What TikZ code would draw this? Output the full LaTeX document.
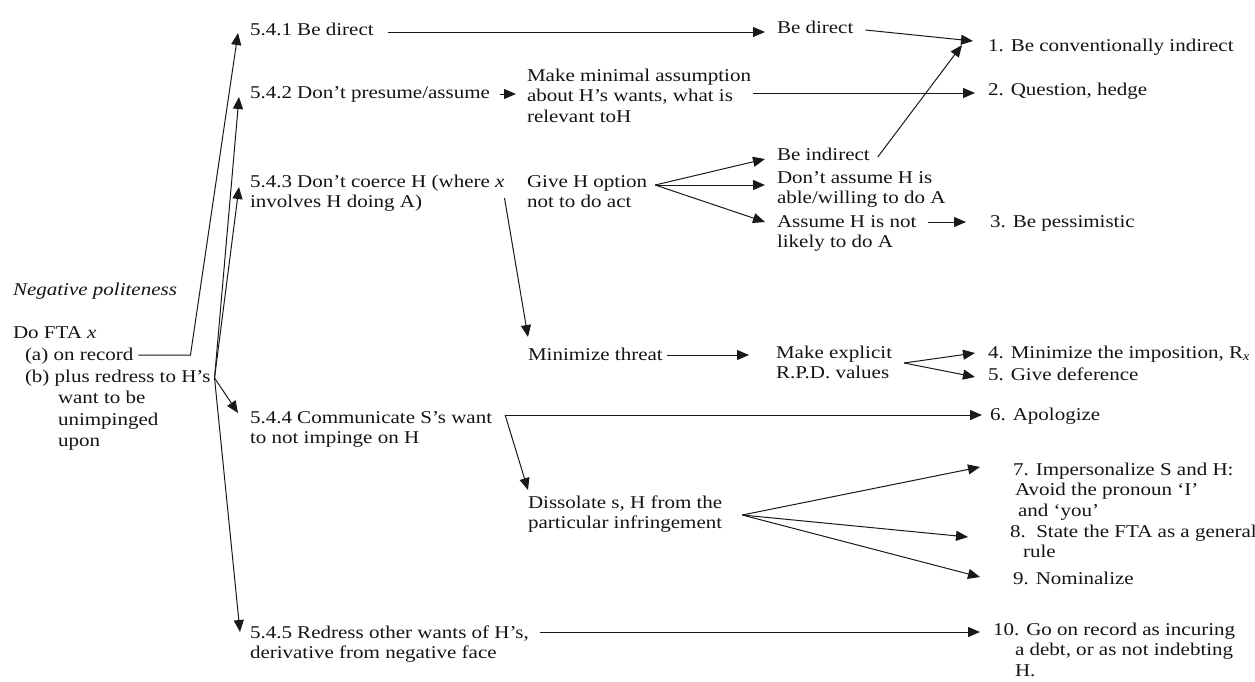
\documentclass[tikz,border=0pt]{standalone}
\usepackage{fontspec}
\setmainfont{Liberation Serif}[FakeStretch=1.167]
\usetikzlibrary{arrows.meta,calc}
\newcommand{\ml}[1]{\begin{tabular}[t]{@{}l@{}}#1\end{tabular}}
\begin{document}
\begin{tikzpicture}[x=1pt,y=-1pt,
  font=\fontsize{18}{20.5}\selectfont,
  txt/.style={anchor=base west,inner sep=0pt,outer sep=0pt,text=black!92},
  ln/.style={draw=black!90,line width=1pt},
  arr/.style={ln,-{Triangle[length=12pt,width=10pt]}}]
\useasboundingbox (0,0) rectangle (1255,681);
% left block
\node[txt] (neg) at (13,295) {\textit{Negative politeness}};
\node[txt] (dofta) at (13,338) {Do FTA \textit{x}};
\node[txt] (ona) at (25,360) {(a) on record};
\node[txt] (onb) at (25,382) {\renewcommand\arraystretch{1.05}\ml{(b) plus redress to H's\\\hspace*{33pt}want to be\\\hspace*{33pt}unimpinged\\\hspace*{33pt}upon}};
% level 1
\node[txt] (n541) at (250,35) {5.4.1 Be direct};
\node[txt] (n542) at (250,98) {5.4.2 Don't presume/assume};
\node[txt] (n543) at (250,187) {\ml{5.4.3 Don't coerce H (where \textit{x}\\involves H doing A)}};
\node[txt] (n544) at (250,423) {\ml{5.4.4 Communicate S's want\\to not impinge on H}};
\node[txt] (n545) at (250,638) {\ml{5.4.5 Redress other wants of H's,\\derivative from negative face}};
% level 2
\node[txt] (make) at (527,81) {\ml{Make minimal assumption\\about H's wants, what is\\relevant toH}};
\node[txt] (give) at (527,187) {\ml{Give H option\\not to do act}};
\node[txt] (minthr) at (528,360) {Minimize threat};
\node[txt] (dissol) at (528,508) {\ml{Dissolate s, H from the\\particular infringement}};
% level 3
\node[txt] (bedir) at (777,33) {Be direct};
\node[txt] (beind) at (777,160) {Be indirect};
\node[txt] (dontas) at (777,183) {\ml{Don't assume H is\\able/willing to do A}};
\node[txt] (assume) at (777,227) {\ml{Assume H is not\\likely to do A}};
\node[txt] (explicit) at (776,358) {\ml{Make explicit\\R.P.D. values}};
% outcomes
\node[txt] (o1) at (988,51) {1. Be conventionally indirect};
\node[txt] (o2) at (988,95) {2. Question, hedge};
\node[txt] (o3) at (990,227) {3. Be pessimistic};
\node[txt] (o4) at (988,358) {4. Minimize the imposition, R\textsubscript{\textit{x}}};
\node[txt] (o5) at (988,380) {5. Give deference};
\node[txt] (o6) at (990,420) {6. Apologize};
\node[txt] (o7) at (1013,475) {\ml{7. Impersonalize S and H:\\\hspace*{2pt}Avoid the pronoun `I'\\\hspace*{5pt}and `you'}};
\node[txt] (o8) at (1010,537) {\ml{8.\ \ State the FTA as a general\\\hspace*{13pt}rule}};
\node[txt] (o9) at (1013,584) {9. Nominalize};
\node[txt] (o10) at (993,635) {\ml{10. Go on record as incuring\\\hspace*{22pt}a debt, or as not indebting\\\hspace*{22pt}H.}};
% connectors from the left block
\coordinate (acorner) at ($(ona.base east)+(57,-5)$);
\coordinate (bpt) at ($(onb.base east)+(4,-4)$);
\draw[arr] ($(ona.base east)+(5,-5)$) -- (acorner) -- ($(n541.base west)+(-12,-2)$);
\draw[arr] (bpt) -- ($(n542.base west)+(-11,-1)$);
\draw[arr] (bpt) -- ($(n543.base west)+(-11,0)$);
\draw[arr] (bpt) -- ($(n544.base west)+(-12,-10)$);
\draw[arr] (bpt) -- ($(n545.base west)+(-10,-6)$);
% 5.4.1
\draw[arr] ($(n541.base east)+(14,-3)$) -- ($(bedir.base west)+(-12,-1)$);
\draw[arr] ($(bedir.base east)+(12,-3)$) -- ($(o1.base west)+(-15,-10)$);
% 5.4.2
\draw[arr] ($(n542.base east)+(10,-4)$) -- ($(make.base west)+(-11,13)$);
\draw[arr] ($(make.base east)+(2,12)$) -- ($(o2.base west)+(-13,-2)$);
% 5.4.3
\coordinate (gfan) at ($(give.base east)+(8,-2)$);
\draw[arr] (gfan) -- ($(beind.base west)+(-12,-1)$);
\draw[arr] (gfan) -- ($(dontas.base west)+(-12,2)$);
\draw[arr] (gfan) -- ($(assume.base west)+(-12,-5)$);
\draw[arr] ($(beind.base east)+(8,-3)$) -- ($(o1.base west)+(-26,-6)$);
\draw[arr] ($(assume.base east)+(12,-5)$) -- ($(o3.base west)+(-24,-5)$);
\draw[arr] ($(n543.base east)+(0,11)$) -- ($(minthr.base west)+(0,-23)$);
\draw[arr] ($(minthr.base east)+(4,-5)$) -- ($(explicit.base west)+(-27,-3)$);
\coordinate (efan) at ($(explicit.base east)+(12,5)$);
\draw[arr] (efan) -- ($(o4.base west)+(-13,-5)$);
\draw[arr] (efan) -- ($(o5.base west)+(-13,-3)$);
% 5.4.4
\coordinate (cst) at ($(n544.base east)+(13,-8)$);
\draw[arr] (cst) -- ($(o6.base west)+(-8,-5)$);
\draw[arr] (cst) -- ($(dissol.base west)+(0,-18)$);
\coordinate (dfan) at ($(dissol.base east)+(20,7)$);
\draw[arr] (dfan) -- ($(o7.base west)+(-33,-8)$);
\draw[arr] (dfan) -- ($(o8.base west)+(-42,0)$);
\draw[arr] (dfan) -- ($(o9.base west)+(-33,-7)$);
% 5.4.5
\draw[arr] ($(n545.base east)+(11,-6)$) -- ($(o10.base west)+(-13,-3)$);
\end{tikzpicture}
\end{document}
